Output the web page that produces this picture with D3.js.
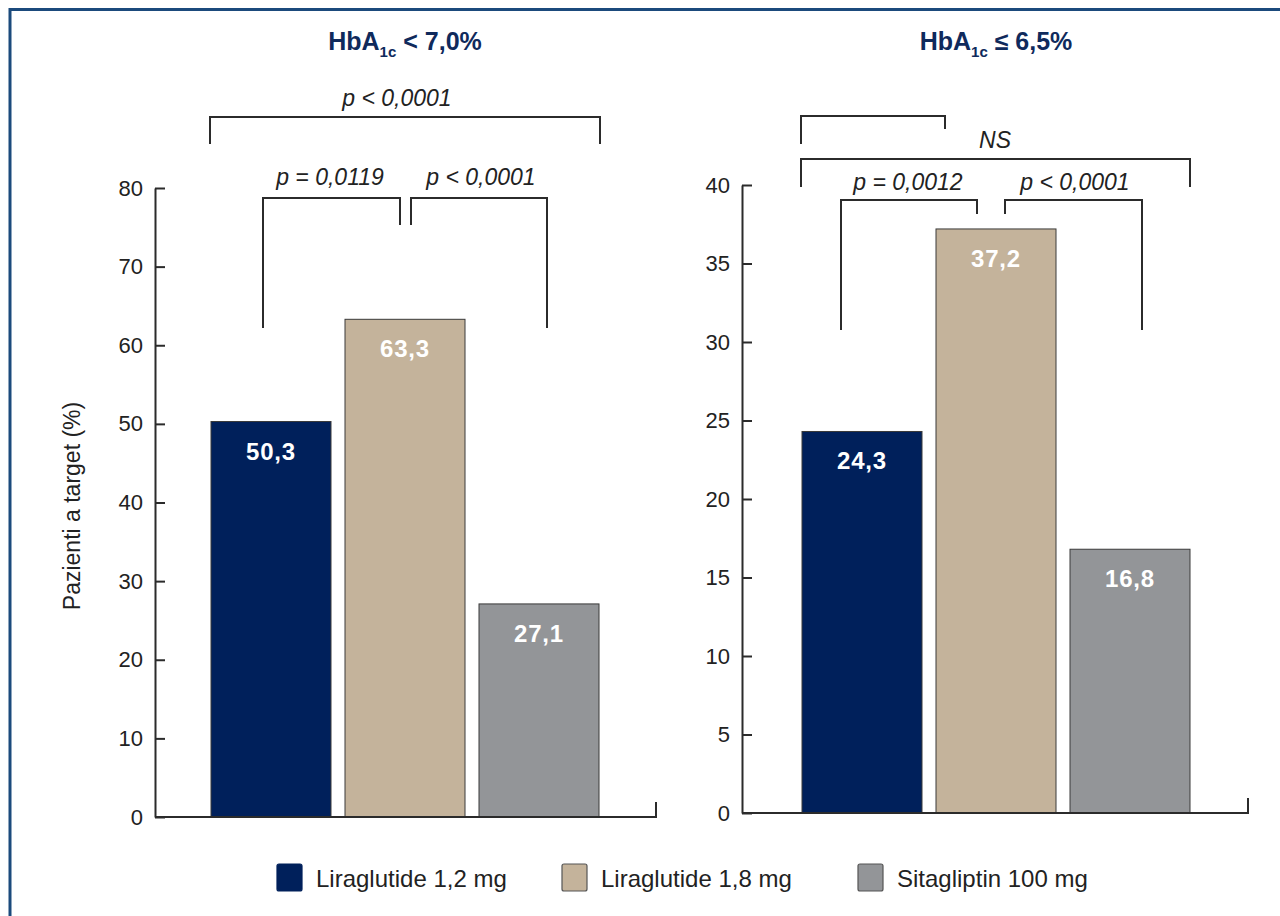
<!DOCTYPE html>
<html>
<head>
<meta charset="utf-8">
<script src="https://cdn.jsdelivr.net/npm/d3@7"></script>
<style>
  html, body { margin: 0; padding: 0; background: #fff; }
  svg { display: block; font-family: "Liberation Sans", Arial, Helvetica, sans-serif; }
</style>
</head>
<body>
<svg id="chart" width="1280" height="916"></svg>
<script>
// Treatment arms shown in both panels
const categories = ["Liraglutide 1,2 mg", "Liraglutide 1,8 mg", "Sitagliptin 100 mg"];
const colors = ["#00205b", "#c4b39b", "#939598"];

// Percentage of patients reaching target
const valuesBelow70 = [50.3, 63.3, 27.1];   // HbA1c < 7,0%
const valuesBelow65 = [24.3, 37.2, 16.8];   // HbA1c <= 6,5%

// Y-axis tick values for each panel
const ticksLeft = [0, 10, 20, 30, 40, 50, 60, 70, 80];
const ticksRight = [0, 5, 10, 15, 20, 25, 30, 35, 40];

// Significance labels
const pLeft = ["p < 0,0001", "p = 0,0119", "p < 0,0001"];
const pRight = ["", "NS", "p = 0,0012", "p < 0,0001"];

const svg = d3.select("#chart");
const ink = "#2b2b2b";

// Frame: left and top rule
svg.append("path")
  .attr("d", "M10,916 L10,9.5 L1280,9.5")
  .attr("fill", "none")
  .attr("stroke", "#1b4a7c")
  .attr("stroke-width", 3);

function fmt(v) { return v.toFixed(1).replace(".", ","); }

function drawPanel(opt) {
  const g = svg.append("g");
  const y = d3.scaleLinear().domain([0, opt.max]).range([opt.y0, opt.yTop]);
  const x = d3.scaleBand().domain(categories).range([opt.xBar0, opt.xBar0 + 388]).paddingInner(14 / 134).paddingOuter(0);

  // title with subscript
  const t = g.append("text")
    .attr("x", opt.titleX).attr("y", 50)
    .attr("text-anchor", "middle")
    .attr("fill", "#0f2a5c")
    .attr("font-weight", "bold")
    .attr("font-size", 25);
  t.append("tspan").text("HbA");
  t.append("tspan").attr("font-size", 15).attr("dy", 7).text("1c");
  t.append("tspan").attr("dy", -7).text(" " + opt.titleRest);

  // bars
  g.selectAll("rect.bar").data(opt.values).join("rect")
    .attr("class", "bar")
    .attr("x", (d, i) => x(categories[i]))
    .attr("y", d => y(d))
    .attr("width", x.bandwidth())
    .attr("height", d => y(0) - y(d))
    .attr("fill", (d, i) => colors[i])
    .attr("stroke", "#3a3a3a")
    .attr("stroke-width", 1);

  // value labels
  g.selectAll("text.val").data(opt.values).join("text")
    .attr("class", "val")
    .attr("x", (d, i) => x(categories[i]) + x.bandwidth() / 2)
    .attr("y", d => y(d) + 38)
    .attr("text-anchor", "middle")
    .attr("fill", "#fff")
    .attr("font-weight", "bold")
    .attr("font-size", 24)
    .attr("letter-spacing", 0.8)
    .text(d => fmt(d));

  // y axis
  const ax = g.append("g")
    .attr("transform", `translate(${opt.axisX},0)`)
    .call(d3.axisLeft(y).tickValues(opt.ticks).tickSizeInner(-10).tickSizeOuter(0).tickPadding(12).tickFormat(d3.format("d")));
  ax.select(".domain").attr("stroke", ink).attr("stroke-width", 2);
  ax.selectAll(".tick line").attr("stroke", ink).attr("stroke-width", 2);
  ax.selectAll(".tick text").attr("fill", "#222").attr("font-size", 22).attr("font-family", "Liberation Sans, Arial, sans-serif");

  // baseline with closing tick
  g.append("path")
    .attr("d", `M${opt.axisX},${y(0)} L${opt.axisEnd},${y(0)} L${opt.axisEnd},${y(0) - 15}`)
    .attr("fill", "none").attr("stroke", ink).attr("stroke-width", 2);

  // significance brackets
  opt.brackets.forEach(b => {
    g.append("path")
      .attr("d", `M${b.x1},${b.l1} L${b.x1},${b.h} L${b.x2},${b.h} L${b.x2},${b.l2}`)
      .attr("fill", "none").attr("stroke", ink).attr("stroke-width", 2);
    if (b.label) {
      g.append("text")
        .attr("x", b.lx).attr("y", b.ly)
        .attr("text-anchor", "middle")
        .attr("font-style", "italic")
        .attr("font-size", 23)
        .attr("fill", "#222")
        .text(b.label);
    }
  });
}

// Left panel: HbA1c < 7,0%
drawPanel({
  titleX: 405, titleRest: "< 7,0%",
  values: valuesBelow70, max: 80, ticks: ticksLeft,
  y0: 817, yTop: 188, axisX: 155, axisEnd: 656, xBar0: 211,
  brackets: [
    { x1: 210, x2: 600, h: 117, l1: 144, l2: 144, label: pLeft[0], lx: 397, ly: 106 },
    { x1: 263, x2: 400, h: 198, l1: 328, l2: 225, label: pLeft[1], lx: 330, ly: 185 },
    { x1: 411, x2: 547, h: 198, l1: 225, l2: 328, label: pLeft[2], lx: 481, ly: 185 }
  ]
});

// Right panel: HbA1c <= 6,5%
drawPanel({
  titleX: 996, titleRest: "\u2264 6,5%",
  values: valuesBelow65, max: 40, ticks: ticksRight,
  y0: 813, yTop: 185, axisX: 742, axisEnd: 1248, xBar0: 802,
  brackets: [
    { x1: 801, x2: 945, h: 116, l1: 144, l2: 129, label: pRight[0] },
    { x1: 801, x2: 1190, h: 159, l1: 187, l2: 187, label: pRight[1], lx: 995, ly: 148 },
    { x1: 841, x2: 977, h: 200, l1: 330, l2: 214, label: pRight[2], lx: 908, ly: 190 },
    { x1: 1005, x2: 1142, h: 200, l1: 214, l2: 330, label: pRight[3], lx: 1075, ly: 190 }
  ]
});

// Y-axis title
svg.append("text")
  .attr("transform", "translate(80,506) rotate(-90)")
  .attr("text-anchor", "middle")
  .attr("font-size", 23)
  .attr("fill", "#222")
  .text("Pazienti a target (%)");

// Legend
const legendX = [277, 562, 858];
const leg = svg.append("g");
categories.forEach((c, i) => {
  leg.append("rect")
    .attr("x", legendX[i]).attr("y", 864)
    .attr("width", 25).attr("height", 27).attr("rx", 2)
    .attr("fill", colors[i])
    .attr("stroke", i === 0 ? "#00205b" : "#555").attr("stroke-width", 1.2);
  leg.append("text")
    .attr("x", legendX[i] + 39).attr("y", 887)
    .attr("font-size", 24)
    .attr("fill", "#222")
    .text(c);
});
</script>
</body>
</html>
